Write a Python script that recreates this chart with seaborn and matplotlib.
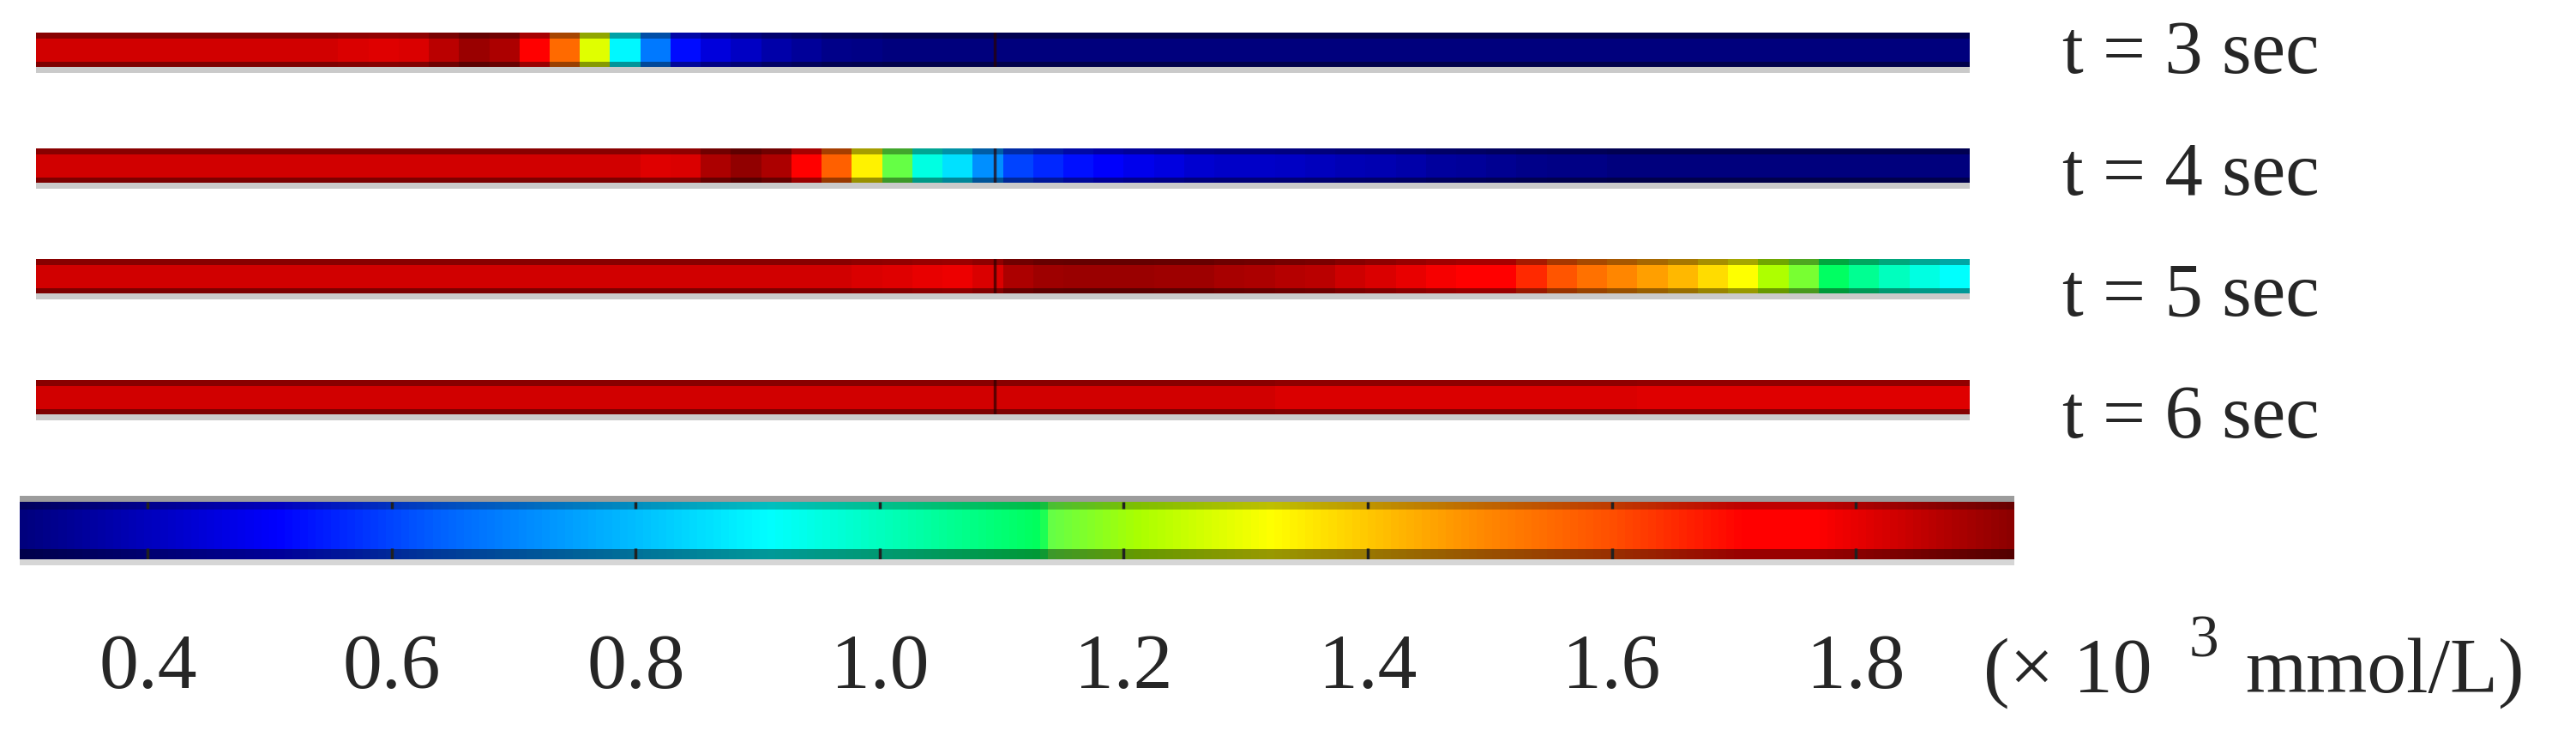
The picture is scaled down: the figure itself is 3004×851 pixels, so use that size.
import numpy as np
import matplotlib
matplotlib.use("Agg")
import matplotlib.pyplot as plt
import seaborn as sns
from matplotlib.patches import Rectangle
from matplotlib.colors import LinearSegmentedColormap

# --- dati (concentrazione lungo il canale, 64 celle) ---
time_labels = ["t = 3 sec", "t = 4 sec", "t = 5 sec", "t = 6 sec"]

conc_t3 = [1.83, 1.83, 1.83, 1.83, 1.83, 1.83, 1.83, 1.83, 1.83, 1.83, 1.82, 1.81, 1.82, 1.86, 1.91, 1.88,
           1.74, 1.55, 1.28, 0.90, 0.68, 0.52, 0.45, 0.41, 0.37, 0.34, 0.32, 0.31, 0.30, 0.30, 0.30, 0.30,
           0.30, 0.30, 0.30, 0.30, 0.30, 0.30, 0.30, 0.30, 0.30, 0.30, 0.30, 0.30, 0.30, 0.30, 0.30, 0.30,
           0.30, 0.30, 0.30, 0.30, 0.30, 0.30, 0.30, 0.30, 0.30, 0.30, 0.30, 0.30, 0.30, 0.30, 0.30, 0.30]

conc_t4 = [1.83, 1.83, 1.83, 1.83, 1.83, 1.83, 1.83, 1.83, 1.83, 1.83, 1.83, 1.83, 1.83, 1.83, 1.83, 1.83,
           1.83, 1.83, 1.83, 1.83, 1.81, 1.82, 1.88, 1.92, 1.88, 1.76, 1.57, 1.34, 1.14, 0.95, 0.86, 0.72,
           0.60, 0.56, 0.53, 0.50, 0.48, 0.46, 0.43, 0.42, 0.42, 0.41, 0.40, 0.39, 0.38, 0.37, 0.35, 0.34,
           0.33, 0.32, 0.31, 0.31, 0.30, 0.30, 0.30, 0.30, 0.30, 0.30, 0.30, 0.30, 0.30, 0.30, 0.30, 0.30]

conc_t5 = [1.83, 1.83, 1.83, 1.83, 1.83, 1.83, 1.83, 1.83, 1.83, 1.83, 1.83, 1.83, 1.83, 1.83, 1.83, 1.83,
           1.83, 1.83, 1.83, 1.83, 1.83, 1.83, 1.83, 1.83, 1.83, 1.83, 1.83, 1.82, 1.81, 1.80, 1.79, 1.82,
           1.88, 1.90, 1.91, 1.91, 1.91, 1.90, 1.90, 1.89, 1.88, 1.87, 1.86, 1.84, 1.82, 1.80, 1.78, 1.75,
           1.71, 1.65, 1.59, 1.54, 1.50, 1.46, 1.42, 1.37, 1.32, 1.22, 1.16, 1.12, 1.06, 1.00, 0.95, 0.91]

conc_t6 = [1.83, 1.83, 1.83, 1.83, 1.83, 1.83, 1.83, 1.83, 1.83, 1.83, 1.83, 1.83, 1.83, 1.83, 1.83, 1.83,
           1.83, 1.83, 1.83, 1.83, 1.83, 1.83, 1.83, 1.83, 1.83, 1.83, 1.83, 1.83, 1.83, 1.83, 1.83, 1.83,
           1.83, 1.83, 1.83, 1.83, 1.83, 1.83, 1.83, 1.83, 1.83, 1.82, 1.82, 1.82, 1.82, 1.82, 1.82, 1.82,
           1.82, 1.82, 1.82, 1.82, 1.82, 1.81, 1.81, 1.81, 1.81, 1.81, 1.81, 1.81, 1.81, 1.81, 1.81, 1.81]

cbar_ticks = [0.4, 0.6, 0.8, 1.0, 1.2, 1.4, 1.6, 1.8]
cbar_labels = ["0.4", "0.6", "0.8", "1.0", "1.2", "1.4", "1.6", "1.8"]
unit_parts = ["(× 10", "3", "mmol/L)"]
c_min, c_max = 0.295, 1.93
joint_frac = 0.496  # giunzione del canale (linea scura verticale)

cmap_stops = [(0.295, "#00007d"), (0.505, "#0000ff"), (0.642, "#0064ff"), (0.80, "#00beff"),
              (0.909, "#00ffff"), (1.0, "#00ffbe"), (1.133, "#00ff5a"), (1.14, "#64ff46"),
              (1.213, "#aaff00"), (1.322, "#ffff00"), (1.40, "#ffc800"), (1.49, "#ff8c00"),
              (1.60, "#ff5000"), (1.71, "#ff0000"), (1.77, "#ff0000"), (1.93, "#8c0000")]
rainbow = LinearSegmentedColormap.from_list(
    "rainbow_comsol", [((v - c_min) / (c_max - c_min), c) for v, c in cmap_stops])

# --- impostazioni grafiche ---
sns.set_theme(style="white")
plt.rcParams["font.family"] = ["Liberation Serif", "DejaVu Serif"]

W, H = 3004, 851
fig = plt.figure(figsize=(W / 100, H / 100), dpi=100)


def box(x0, y0, x1, y1):
    # box in pixel (origine in alto) -> frazione della figura
    return [x0 / W, 1 - y1 / H, (x1 - x0) / W, (y1 - y0) / H]


strip_rows = [(38, 78), (173, 213), (302, 342), (443, 483)]
label_base = [85, 227, 368, 510]
profiles = [conc_t3, conc_t4, conc_t5, conc_t6]

cax = fig.add_axes(box(23, 585, 2349, 652))
cbar = None

for i, (prof, (y0, y1)) in enumerate(zip(profiles, strip_rows)):
    ax = fig.add_axes(box(42, y0, 2297, y1))
    last = i == len(profiles) - 1
    sns.heatmap(np.array([prof]), ax=ax, cmap=rainbow, vmin=c_min, vmax=c_max,
                xticklabels=False, yticklabels=False, cbar=last,
                cbar_ax=cax if last else None,
                cbar_kws=dict(orientation="horizontal", ticks=cbar_ticks))
    if last:
        cbar = ax.collections[0].colorbar
    ax.axvline(joint_frac * len(prof), color="#2a0000", lw=2.5, alpha=0.7)
    # bordi scuri sopra e sotto + ombra grigia
    ax.add_patch(Rectangle((0, 0.83), 1, 0.17, transform=ax.transAxes,
                           color="black", alpha=0.35, lw=0))
    ax.add_patch(Rectangle((0, 0), 1, 0.16, transform=ax.transAxes,
                           color="black", alpha=0.4, lw=0))
    ax.add_patch(Rectangle((0, -0.17), 1, 0.17, transform=ax.transAxes,
                           color="#bdbdbd", alpha=0.8, lw=0, clip_on=False))
    fig.text(2405 / W, 1 - label_base[i] / H, time_labels[i], fontsize=64,
             ha="left", va="baseline")

# --- barra colori ---
cbar.outline.set_visible(False)
cbar.set_ticks(cbar_ticks)
cbar.set_ticklabels(cbar_labels)
cax.tick_params(axis="x", length=0, top=False, bottom=True,
                labeltop=False, labelbottom=True, pad=62, labelsize=66)
cax.add_patch(Rectangle((0, 1.0), 1, 0.11, transform=cax.transAxes,
                        color="#9c9c9c", lw=0, clip_on=False))
cax.add_patch(Rectangle((0, 0.86), 1, 0.14, transform=cax.transAxes,
                        color="black", alpha=0.25, lw=0))
cax.add_patch(Rectangle((0, 0), 1, 0.18, transform=cax.transAxes,
                        color="black", alpha=0.4, lw=0))
cax.add_patch(Rectangle((0, -0.1), 1, 0.1, transform=cax.transAxes,
                        color="#d6d6d6", lw=0, clip_on=False))
# tacche corte scure in alto e in basso
tr = cax.get_xaxis_transform()
cax.vlines(cbar_ticks, 0.88, 1.0, transform=tr, color="#202020", lw=2.5, zorder=5)
cax.vlines(cbar_ticks, 0.0, 0.2, transform=tr, color="#202020", lw=2.5, zorder=5)

# unità di misura con esponente
fig.text(2313 / W, 1 - 807 / H, unit_parts[0], fontsize=66, ha="left", va="baseline")
fig.text(2553 / W, 1 - 765 / H, unit_parts[1], fontsize=50, ha="left", va="baseline")
fig.text(2618 / W, 1 - 807 / H, unit_parts[2], fontsize=66, ha="left", va="baseline")

fig.savefig("out.png", dpi=100)
